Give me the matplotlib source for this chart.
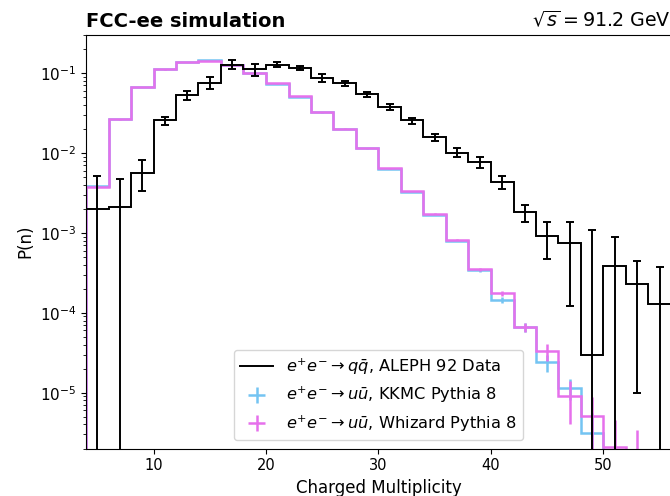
import numpy as np
import matplotlib
matplotlib.use('Agg')
import matplotlib.pyplot as plt
from matplotlib.lines import Line2D

# Bin edges: width 2, centred on odd multiplicities
edges = np.arange(4, 58, 2)
centers = edges[:-1] + 1

# ALEPH 92 data
aleph = [2.0e-3, 2.1e-3, 5.7e-3, 0.0256, 0.0526, 0.0757, 0.128, 0.111, 0.128,
         0.116, 0.0874, 0.0744, 0.0542, 0.0379, 0.0256, 0.0158, 0.0101, 0.0077,
         0.0043, 0.0018, 9.2e-4, 7.4e-4, 3.0e-5, 3.8e-4, 2.3e-4, 1.3e-4]
aleph_err = [3.1e-3, 2.6e-3, 2.4e-3, 3.0e-3, 7.0e-3, 0.013, 0.016, 0.018, 0.010,
             0.008, 0.009, 0.006, 0.0045, 0.003, 0.0022, 0.0017, 0.0013, 0.0013,
             8.0e-4, 4.5e-4, 4.5e-4, 6.2e-4, 1.05e-3, 5.0e-4, 2.2e-4, 2.4e-4]

# KKMC + Pythia 8
kkmc = [3.9e-3, 0.0268, 0.067, 0.111, 0.138, 0.146, 0.128, 0.100, 0.0740,
        0.0505, 0.0322, 0.0198, 0.0114, 0.0063, 0.00325, 0.00168, 8.0e-4,
        3.4e-4, 1.45e-4, 6.6e-5, 2.4e-5, 1.15e-5, 3.1e-6, 0, 0, 0]
kkmc_err = [2e-5, 1e-4, 2e-4, 3e-4, 3e-4, 3e-4, 3e-4, 3e-4, 2e-4, 2e-4, 1e-4,
            1e-4, 6e-5, 4e-5, 3e-5, 2e-5, 1.2e-5, 1.2e-5, 1.2e-5, 8e-6, 6e-6,
            3.5e-6, 2.5e-6, 0, 0, 0]

# Whizard + Pythia 8
whizard = [3.7e-3, 0.0263, 0.0668, 0.111, 0.138, 0.143, 0.128, 0.101, 0.0743,
           0.0512, 0.0328, 0.0202, 0.0116, 0.0064, 0.00335, 0.00174, 8.2e-4,
           3.5e-4, 1.75e-4, 6.6e-5, 3.3e-5, 9.0e-6, 5.1e-6, 2.1e-6, 1.2e-6, 0]
whizard_err = [2e-5, 1e-4, 2e-4, 3e-4, 3e-4, 3e-4, 3e-4, 3e-4, 2e-4, 2e-4, 1e-4,
               1e-4, 6e-5, 4e-5, 3e-5, 2e-5, 1.4e-5, 1.4e-5, 1.4e-5, 9e-6, 8e-6,
               5e-6, 3.6e-6, 2.5e-6, 2.2e-6, 0]

BLUE = '#74c4f2'
PINK = '#e670ec'

fig = plt.figure(figsize=(6.7, 4.96), dpi=100)
ax = fig.add_axes([86 / 670, 47.5 / 496, 585 / 670, 413.5 / 496])

# ALEPH
ax.stairs(aleph, edges, color='black', lw=1.4, zorder=3)
ax.errorbar(centers, aleph, yerr=aleph_err, fmt='none', ecolor='black',
            elinewidth=1.4, capsize=3, capthick=1.4, zorder=3)

# KKMC
ax.stairs(kkmc, edges, color=BLUE, lw=1.8, zorder=1)
ax.errorbar(centers, kkmc, yerr=kkmc_err, fmt='none', ecolor=BLUE,
            elinewidth=1.8, zorder=1)

# Whizard
ax.stairs(whizard, edges, color=PINK, lw=1.8, zorder=2)
ax.errorbar(centers, whizard, yerr=whizard_err, fmt='none', ecolor=PINK,
            elinewidth=1.8, zorder=2)

ax.set_yscale('log', nonpositive='clip')
ax.set_xlim(4, 56)
ax.set_ylim(2e-6, 0.3)
ax.set_xlabel('Charged Multiplicity', fontsize=12)
ax.set_ylabel('P(n)', fontsize=12)
ax.tick_params(axis='x', labelsize=10.5)
ax.tick_params(axis='y', labelsize=11)

# legend proxies
h_data = Line2D([], [], color='black', lw=1.4)
h_kkmc = ax.errorbar([np.nan], [np.nan], xerr=[1], yerr=[1], fmt='none',
                     ecolor=BLUE, elinewidth=1.8)
h_whiz = ax.errorbar([np.nan], [np.nan], xerr=[1], yerr=[1], fmt='none',
                     ecolor=PINK, elinewidth=1.8)
ax.legend([h_data, h_kkmc, h_whiz],
          [r'$e^{+}e^{-}\rightarrow q\bar{q}$, ALEPH 92 Data',
           r'$e^{+}e^{-}\rightarrow u\bar{u}$, KKMC Pythia 8',
           r'$e^{+}e^{-}\rightarrow u\bar{u}$, Whizard Pythia 8'],
          loc='lower center', fontsize=11.7)

ax.set_title('FCC-ee simulation', loc='left', fontsize=14, fontweight='bold')
ax.set_title(r'$\sqrt{s} = 91.2$ GeV', loc='right', fontsize=13.7)

fig.savefig('out.png', dpi=100)
